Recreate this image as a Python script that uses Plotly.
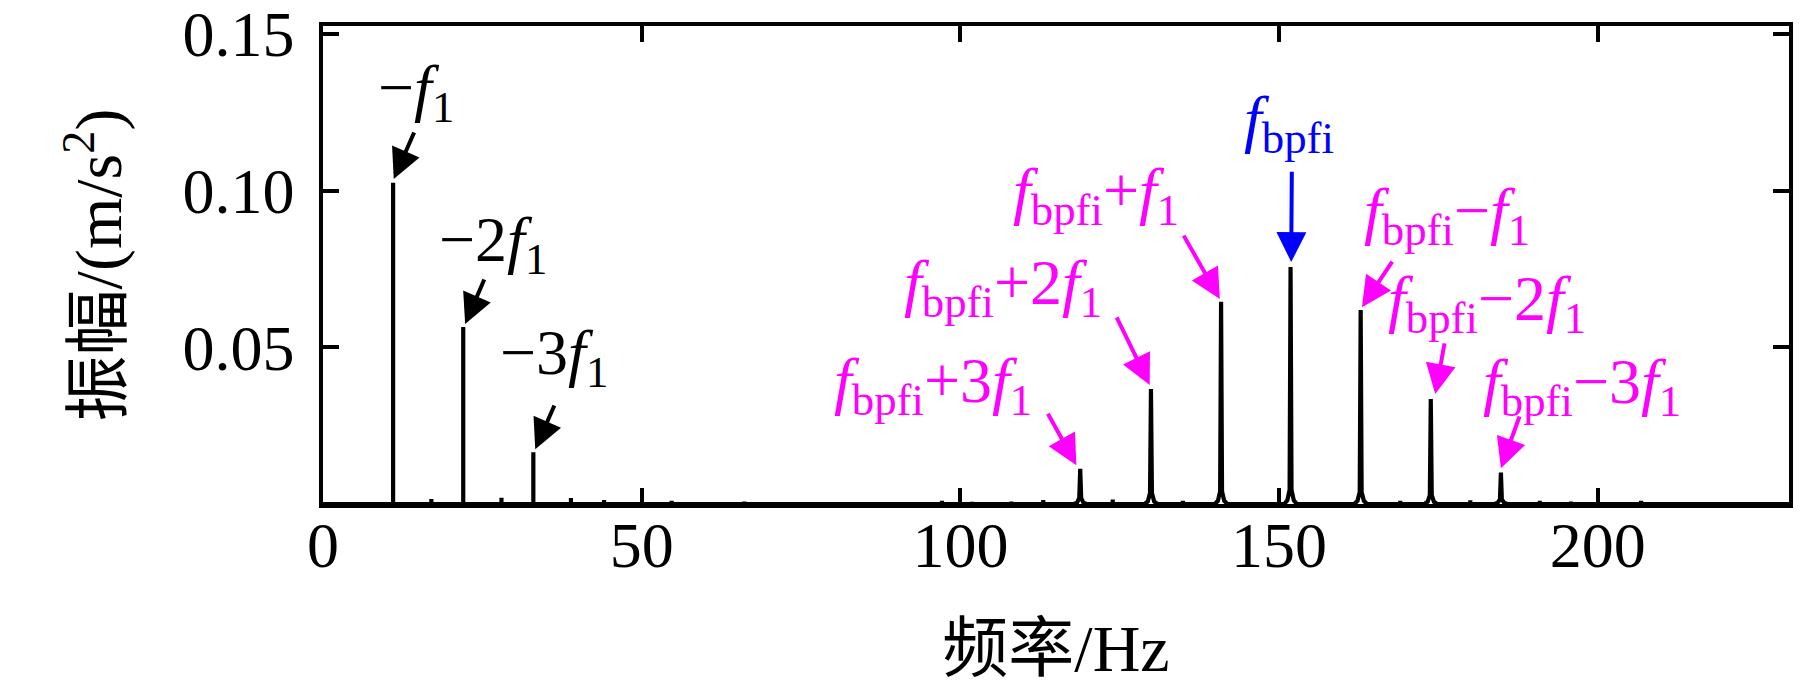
import plotly.graph_objects as go

# spectral lines (Hz, m/s^2)
peak_freq = [11.0, 22.0, 33.0, 118.8, 129.9, 140.9, 151.8, 162.8, 173.8, 184.8]
peak_amp = [0.1025, 0.0565, 0.0165, 0.0112, 0.0367, 0.0645, 0.0756, 0.0619, 0.0335, 0.0100]
# amplitude on the flanks of each line (about 0.15 Hz and 0.5 Hz off centre)
skirt_near = [0.0, 0.0, 0.0, 0.0020, 0.0035, 0.0040, 0.0045, 0.0038, 0.0028, 0.0015]
skirt_far = [0.0, 0.0, 0.0, 0.0004, 0.0008, 0.0010, 0.0012, 0.0010, 0.0007, 0.0004]

# small noise bumps along the baseline
bump_freq = [4.9, 17.0, 28.0, 38.9, 44.1, 54.7, 66.1, 74.8, 76.9, 86.0, 87.9, 97.1,
             101.8, 108.0, 113.0, 123.9, 134.9, 169.0, 180.0, 190.9, 195.8, 206.8, 226.0]
bump_amp = [0.0004, 0.0016, 0.0020, 0.0019, 0.0013, 0.0010, 0.0008, 0.0004, 0.0005, 0.0006,
            0.0004, 0.0010, 0.0007, 0.0008, 0.0013, 0.0014, 0.0010, 0.0010, 0.0012, 0.0010,
            0.0008, 0.0010, 0.0004]

x_min, x_max = 0, 230
y_max = 0.1525
x_ticks = [0, 50, 100, 150, 200]
y_ticks = [0.05, 0.10, 0.15]
y_tick_text = ["0.05", "0.10", "0.15"]

# annotation labels: text, colour, text position, arrow tail, arrow head
F = "<i>f</i>"
labels = [
    ("\u2212" + F + "<sub>1</sub>", "black", (14.6, 0.1314), (14.4, 0.119), (11.1, 0.1037)),
    ("\u22122" + F + "<sub>1</sub>", "black", (26.7, 0.0829), (25.4, 0.0721), (22.3, 0.0574)),
    ("\u22123" + F + "<sub>1</sub>", "black", (36.3, 0.0469), (36.4, 0.0319), (33.3, 0.0175)),
    (F + "<sub>bpfi</sub>", "#0000ff", (151.6, 0.1215), (152.0, 0.1065), (151.9, 0.0772)),
    (F + "<sub>bpfi</sub>+" + F + "<sub>1</sub>", "#ff00ff", (121.2, 0.0986), (134.9, 0.0861), (140.7, 0.0654)),
    (F + "<sub>bpfi</sub>+2" + F + "<sub>1</sub>", "#ff00ff", (106.7, 0.0692), (124.4, 0.0600), (129.7, 0.0380)),
    (F + "<sub>bpfi</sub>+3" + F + "<sub>1</sub>", "#ff00ff", (95.7, 0.0380), (113.6, 0.0293), (118.2, 0.0124)),
    (F + "<sub>bpfi</sub>\u2212" + F + "<sub>1</sub>", "#ff00ff", (176.3, 0.0922), (167.9, 0.0778), (163.0, 0.0628)),
    (F + "<sub>bpfi</sub>\u22122" + F + "<sub>1</sub>", "#ff00ff", (182.6, 0.0641), (176.0, 0.0517), (174.5, 0.0351)),
    (F + "<sub>bpfi</sub>\u22123" + F + "<sub>1</sub>", "#ff00ff", (197.5, 0.0376), (187.8, 0.0284), (184.8, 0.0114)),
]

# build the spectrum trace: narrow peaks plus baseline bumps on a zero baseline
pts = [(f, a, n, s) for f, a, n, s in zip(peak_freq, peak_amp, skirt_near, skirt_far)]
pts += [(f, a, 0.0, 0.0) for f, a in zip(bump_freq, bump_amp)]
pts.sort()
xs, ys = [x_min], [0]
for f, a, n, s in pts:
    if n > 0:
        xs += [f - 1.0, f - 0.5, f - 0.15, f, f + 0.15, f + 0.5, f + 1.0]
        ys += [0, s, n, a, n, s, 0]
    else:
        xs += [f, f, f]
        ys += [0, a, 0]
xs.append(x_max)
ys.append(0)

fig = go.Figure()
fig.add_trace(go.Scatter(x=xs, y=ys, mode="lines",
                         line=dict(color="black", width=4.2), showlegend=False))

for text, color, (tx, ty), (ax, ay), (hx, hy) in labels:
    fig.add_annotation(x=tx, y=ty, text=text, showarrow=False,
                       font=dict(color=color, size=64), xanchor="center", yanchor="middle")
    fig.add_annotation(x=hx, y=hy, ax=ax, ay=ay, axref="x", ayref="y", text="",
                       showarrow=True, arrowhead=2, arrowsize=1.5, arrowwidth=4,
                       arrowcolor=color)

axis_common = dict(showline=True, linecolor="black", linewidth=3.5, mirror="ticks",
                   ticks="inside", ticklen=16, tickwidth=3.5, tickcolor="black",
                   showgrid=False, zeroline=False, ticklabeloverflow="allow",
                   automargin=False, tickfont=dict(size=64, color="black"))

fig.update_xaxes(range=[x_min, x_max], tickvals=x_ticks, ticklabelstandoff=-18,
                 title=dict(text="频率/Hz", font=dict(size=66, color="black"), standoff=46),
                 **axis_common)
fig.update_yaxes(range=[0, y_max], tickvals=y_ticks, ticktext=y_tick_text,
                 ticklabelstandoff=12,
                 title=dict(text="振幅/(m/s<sup>2</sup>)", font=dict(size=66, color="black"),
                            standoff=40),
                 **axis_common)

fig.update_layout(
    width=1819, height=691,
    margin=dict(l=315, r=38, t=18, b=195),
    plot_bgcolor="white", paper_bgcolor="white",
    font=dict(family="Liberation Serif, Noto Sans CJK SC", color="black"),
)

fig.write_html("out.html")
